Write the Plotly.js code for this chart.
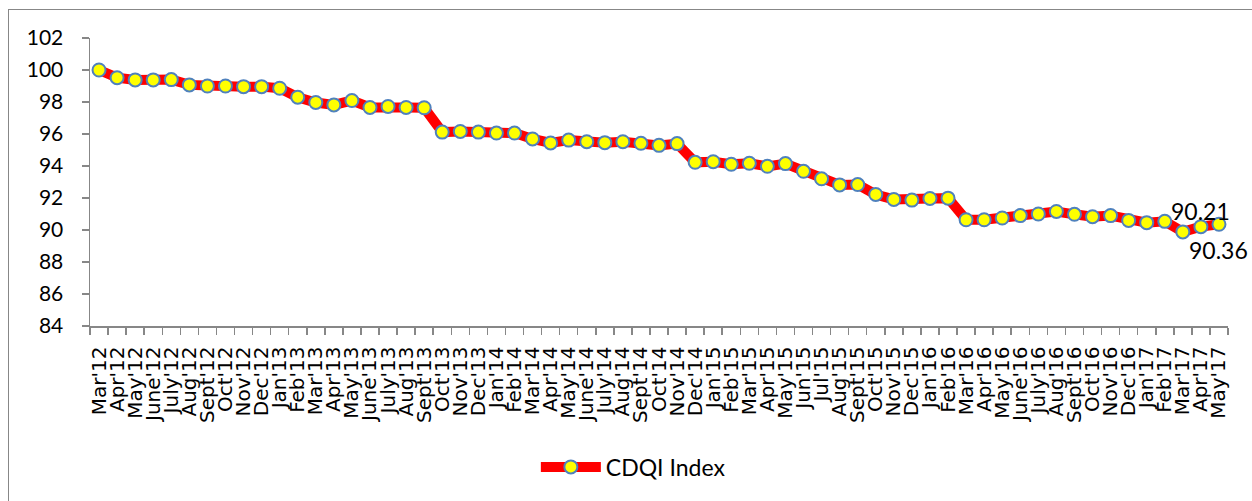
<!DOCTYPE html>
<html>
<head>
<meta charset="utf-8">
<script src="https://cdn.plot.ly/plotly-3.0.1.min.js"></script>
<style>
  html, body { margin: 0; padding: 0; background: #fff; overflow: hidden; }
  #wrap { position: relative; width: 1252px; height: 501px; }
  #chart { position: absolute; left: 0; top: 0; width: 1252px; height: 501px; }
  #frame { position: absolute; left: 8px; top: 9px; width: 1300px; height: 560px;
           border: 1.5px solid #878787; pointer-events: none; }
</style>
</head>
<body>
<div id="wrap">
  <div id="chart"></div>
  <div id="frame"></div>
</div>
<script>
const months = ["Mar'12","Apr'12","May'12","June'12","July'12","Aug'12","Sept'12","Oct'12","Nov'12","Dec'12",
  "Jan'13","Feb'13","Mar'13","Apr'13","May'13","June'13","July'13","Aug'13","Sept'13","Oct'13","Nov'13","Dec'13",
  "Jan'14","Feb'14","Mar'14","Apr'14","May'14","June'14","July'14","Aug'14","Sept'14","Oct'14","Nov'14","Dec'14",
  "Jan'15","Feb'15","Mar'15","Apr'15","May'15","Jun'15","Jul'15","Aug'15","Sept'15","Oct'15","Nov'15","Dec'15",
  "Jan'16","Feb'16","Mar'16","Apr'16","May'16","June'16","July'16","Aug'16","Sept'16","Oct'16","Nov'16","Dec'16",
  "Jan'17","Feb'17","Mar'17","Apr'17","May'17"];

const cdqiIndex = [100.00, 99.52, 99.38, 99.38, 99.40, 99.07, 99.00, 99.00, 98.96, 98.96,
  98.86, 98.30, 97.97, 97.82, 98.09, 97.66, 97.72, 97.66, 97.64, 96.12, 96.16, 96.12,
  96.06, 96.06, 95.69, 95.44, 95.62, 95.52, 95.46, 95.52, 95.42, 95.29, 95.40, 94.23,
  94.27, 94.11, 94.17, 93.98, 94.15, 93.67, 93.20, 92.82, 92.84, 92.22, 91.91, 91.87,
  91.97, 91.99, 90.64, 90.64, 90.75, 90.90, 91.00, 91.16, 90.98, 90.83, 90.90, 90.60,
  90.46, 90.54, 89.88, 90.21, 90.36];

const seriesName = "CDQI Index";
const yTicks = [84, 86, 88, 90, 92, 94, 96, 98, 100, 102];

// data labels shown on the last two points
const labelIdx = [61, 62];
const labelShift = [16, -26];

const axisGrey = "#878787";
const labelFont = "Lato, 'Open Sans', sans-serif";

const trace = {
  x: months,
  y: cdqiIndex,
  type: "scatter",
  mode: "lines+markers",
  name: seriesName,
  line: { color: "#FF0000", width: 10 },
  marker: { color: "#FFFF00", size: 13, line: { color: "#4F81BD", width: 2 } },
  hoverinfo: "x+y"
};

const annotations = labelIdx.map((i, k) => ({
  x: months[i],
  y: cdqiIndex[i],
  xref: "x", yref: "y",
  text: cdqiIndex[i].toFixed(2),
  showarrow: false,
  xanchor: "center", yanchor: "middle",
  yshift: labelShift[k],
  font: { family: labelFont, size: 23, color: "#000" }
}));

const layout = {
  width: 1252, height: 501,
  margin: { l: 90, r: 24, t: 38, b: 175, pad: 0 },
  paper_bgcolor: "rgba(0,0,0,0)",
  plot_bgcolor: "rgba(0,0,0,0)",
  showlegend: true,
  legend: {
    orientation: "h",
    xref: "container", yref: "container",
    x: 0.428, xanchor: "left",
    y: 0.068, yanchor: "middle",
    itemwidth: 60,
    font: { family: labelFont, size: 23, color: "#000" },
    bgcolor: "rgba(0,0,0,0)"
  },
  xaxis: {
    type: "category",
    categoryorder: "array",
    categoryarray: months,
    range: [-0.5, months.length - 0.5],
    tickmode: "array",
    tickvals: months,
    ticktext: months,
    tickson: "boundaries",
    ticks: "outside",
    ticklen: 7,
    tickwidth: 1.5,
    tickcolor: axisGrey,
    showline: true,
    linecolor: axisGrey,
    linewidth: 1.5,
    showgrid: false,
    zeroline: false,
    tickangle: -90,
    ticklabelstandoff: 11,
    tickfont: { family: "'DejaVu Sans', sans-serif", size: 20, color: "#000" },
    fixedrange: true
  },
  yaxis: {
    range: [84, 102],
    tickvals: yTicks,
    ticktext: yTicks.map(String),
    ticks: "outside",
    ticklen: 7,
    tickwidth: 1.5,
    tickcolor: axisGrey,
    showline: true,
    linecolor: axisGrey,
    linewidth: 1.5,
    showgrid: false,
    zeroline: false,
    ticklabelstandoff: 14,
    tickfont: { family: labelFont, size: 21, color: "#000" },
    fixedrange: true
  },
  annotations: annotations
};

Plotly.newPlot("chart", [trace], layout, { displayModeBar: false, staticPlot: true });
</script>
</body>
</html>
